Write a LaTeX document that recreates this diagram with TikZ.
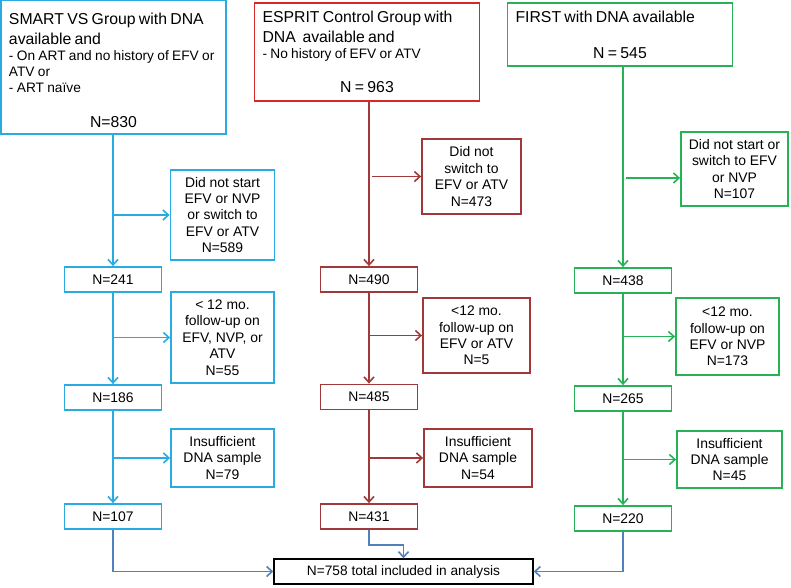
\documentclass[tikz,border=0pt]{standalone}
\usepackage{fontspec}
\setmainfont{Liberation Sans}
\usetikzlibrary{arrows.meta}

\definecolor{smartblue}{RGB}{41,171,226}
\definecolor{espritred}{RGB}{214,40,40}
\definecolor{espritdark}{RGB}{160,58,58}
\definecolor{firstgreen}{RGB}{40,178,88}
\definecolor{totalblue}{RGB}{79,129,189}

\newcommand{\flowtitle}{\fontsize{15.8}{20}\selectfont}
\newcommand{\flowsmall}{\fontsize{13.7}{16}\selectfont}
\newcommand{\flowtext}{\fontsize{13.9}{16.4}\selectfont}

\begin{document}
\begin{tikzpicture}[x=1pt, y=-1pt,
    topbox/.style={draw=#1, line width=1.8pt, align=left, inner xsep=8pt, inner ysep=0pt, text width=209pt, minimum width=225pt},
    nbox/.style={draw=#1, line width=1.8pt, minimum width=97pt, minimum height=25pt, inner sep=0pt, font=\flowtext},
    sidebox/.style={draw=#1, line width=1.8pt, align=center, inner sep=0pt, font=\flowtext},
    flow/.style={draw=#1, line width=1.6pt, ->, >={Straight Barb[length=5.5pt, width=10pt]}}]
    \useasboundingbox (0, 0) rectangle (791, 587) ;

    % top boxes
    \node[topbox=smartblue, minimum height=134pt] (smart) at (113.5, 67) {%
      {\flowtitle\rule{0pt}{17.5pt}SMART VS Group with DNA\\available and\par}
      \flowsmall - On ART and no history of EFV or\\ATV or\\- ART naïve\par
      \vspace{15pt}{\flowtitle\centering N=830\par}} ;
    \node[topbox=espritred, minimum height=98pt] (esprit) at (367, 52) {%
      {\flowtitle ESPRIT Control Group with\\DNA\ \ available and\par}
      \flowsmall - No history of EFV or ATV\par
      \vspace{14pt}{\flowtitle\centering N = 963\par}} ;
    \node[topbox=firstgreen, minimum height=63pt] (first) at (620, 34.5) {%
      {\flowtitle FIRST with DNA available\par}
      \vspace{16pt}{\flowtitle\centering N = 545\par}} ;

    % counts left at each step
    \node[nbox=smartblue] (n241) at (113, 279.5) {N=241} ;
    \node[nbox=smartblue] (n186) at (113, 397.5) {N=186} ;
    \node[nbox=smartblue] (n107) at (113, 516.5) {N=107} ;
    \node[nbox=espritdark] (n490) at (369, 279.5) {N=490} ;
    \node[nbox=espritdark] (n485) at (369, 397) {N=485} ;
    \node[nbox=espritdark] (n431) at (369, 516.5) {N=431} ;
    \node[nbox=firstgreen] (n438) at (623, 280.5) {N=438} ;
    \node[nbox=firstgreen] (n265) at (623, 398.5) {N=265} ;
    \node[nbox=firstgreen] (n220) at (623, 518.5) {N=220} ;

    % excluded
    \node[sidebox=smartblue, minimum width=104pt, minimum height=90pt] (b1) at (222.5, 215) {Did not start\\EFV or NVP\\or switch to\\EFV or ATV\\N=589} ;
    \node[sidebox=smartblue, minimum width=103pt, minimum height=91pt] (b2) at (222.5, 337.5) {< 12 mo.\\follow-up on\\EFV, NVP, or\\ATV\\N=55} ;
    \node[sidebox=smartblue, minimum width=103pt, minimum height=58pt] (b3) at (222.5, 458) {Insufficient\\DNA sample\\N=79} ;
    \node[sidebox=espritdark, minimum width=99pt, minimum height=75pt] (r1) at (471.5, 176.5) {Did not\\switch to\\EFV or ATV\\N=473} ;
    \node[sidebox=espritdark, minimum width=107pt, minimum height=75pt] (r2) at (476.5, 335.5) {<12 mo.\\follow-up on\\EFV or ATV\\N=5} ;
    \node[sidebox=espritdark, minimum width=108pt, minimum height=58pt] (r3) at (478, 458) {Insufficient\\DNA sample\\N=54} ;
    \node[sidebox=firstgreen, minimum width=107pt, minimum height=74pt] (g1) at (734.5, 169) {Did not start or\\switch to EFV\\or NVP\\N=107} ;
    \node[sidebox=firstgreen, minimum width=103pt, minimum height=77pt] (g2) at (727.5, 336.5) {<12 mo.\\follow-up on\\EFV or NVP\\N=173} ;
    \node[sidebox=firstgreen, minimum width=105pt, minimum height=57pt] (g3) at (729.5, 459.5) {Insufficient\\DNA sample\\N=45} ;
    \coordinate (g1in) at ([yshift=-9pt]g1.west) ;

    \node[draw, line width=1.4pt, minimum width=259pt, minimum height=25pt, font=\flowsmall] (total) at (403.5, 571.5) {N=758 total included in analysis} ;

    % SMART
    \draw[flow=smartblue] (n241 |- smart.south) -- (n241.north) ;
    \draw[flow=smartblue] (n241 |- b1.west) -- (b1.west) ;
    \draw[flow=smartblue] (n241.south) -- (n186.north) ;
    \draw[flow=smartblue] (n186 |- b2.west) -- (b2.west) ;
    \draw[flow=smartblue] (n186.south) -- (n107.north) ;
    \draw[flow=smartblue] (n107 |- b3.west) -- (b3.west) ;

    % ESPRIT
    \draw[flow=espritdark] (n490 |- esprit.south) -- (n490.north) ;
    \draw[flow=espritdark, shorten <=3pt] (n490 |- r1.west) -- (r1.west) ;
    \draw[flow=espritdark] (n490.south) -- (n485.north) ;
    \draw[flow=espritdark] (n485 |- r2.west) -- (r2.west) ;
    \draw[flow=espritdark] (n485.south) -- (n431.north) ;
    \draw[flow=espritdark] (n431 |- r3.west) -- (r3.west) ;

    % FIRST
    \draw[flow=firstgreen] (n438 |- first.south) -- (n438.north) ;
    \draw[flow=firstgreen, shorten <=3pt] (n438 |- g1in) -- (g1in) ;
    \draw[flow=firstgreen] (n438.south) -- (n265.north) ;
    \draw[flow=firstgreen] (n265 |- g2.west) -- (g2.west) ;
    \draw[flow=firstgreen] (n265.south) -- (n220.north) ;
    \draw[flow=firstgreen] (n220 |- g3.west) -- (g3.west) ;

    % into the analysis
    \draw[flow=totalblue] (n107.south) |- (total.west) ;
    \draw[flow=totalblue] (n431.south) -- ++(0, 15) -| (total.north) ;
    \draw[flow=totalblue] (n220.south) |- (total.east) ;
  \end{tikzpicture}
\end{document}
